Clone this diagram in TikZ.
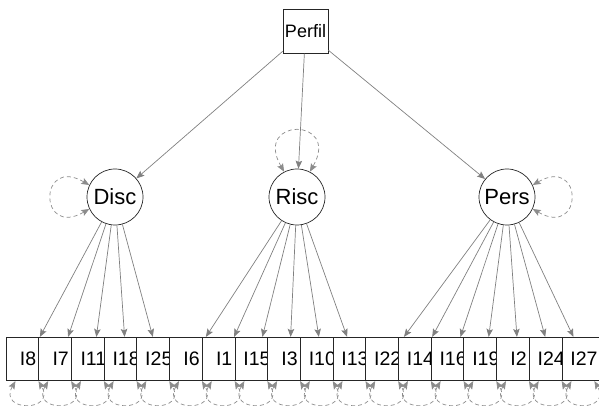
\documentclass[tikz,border=0pt]{standalone}
\usepackage{fontspec}
\setmainfont{Liberation Sans}
\usetikzlibrary{arrows.meta}

\tikzset{
  obs/.style={draw=black!85, fill=white, line width=0.7pt, inner sep=0pt,
    minimum width=44pt, minimum height=43.5pt, font=\fontsize{19.5}{19.5}\selectfont},
  lat/.style={circle, draw=black!85, fill=white, line width=0.7pt, inner sep=0pt,
    minimum size=56pt, font=\fontsize{22}{22}\selectfont},
  load/.style={draw=black!50, line width=0.7pt, -{Stealth[length=8pt,width=6.5pt,inset=1.5pt]}},
  resid/.style={draw=black!45, line width=0.7pt, dash pattern=on 4pt off 3pt,
    {Stealth[length=8pt,width=6.5pt,inset=1.5pt]}-{Stealth[length=8pt,width=6.5pt,inset=1.5pt]}},
}

\begin{document}
\begin{tikzpicture}[x=1pt,y=1pt]
        \useasboundingbox (0,0) rectangle (599,406);
        \clip (0,0) rectangle (599,406);
        % second order factor and the three first order factors
        \node[obs, minimum width=45pt, font=\fontsize{18}{18}\selectfont] (perfil) at (305.5,374.5) {Perfil};
        \node[lat] (disc) at (115,209) {Disc};
        \node[lat] (risc) at (297,209) {Risc};
        \node[lat] (pers) at (507,209) {Pers};
        % items, each box laid over the one before
        \foreach \n [count=\k from 0] in {8,7,11,18,25,6,1,15,3,10,13,22,14,16,19,2,24,27}
            \node[obs] (i\n) at ({28+32.7*\k},47) {I\n};
        % loadings
        \draw[load] (perfil) -- (disc);
        \draw[load] (perfil) -- (risc);
        \draw[load] (perfil) -- (pers);
        \foreach \n in {8,7,11,18,25} \draw[load] (disc) -- (i\n);
        \foreach \n in {6,1,15,3,10,13} \draw[load] (risc) -- (i\n);
        \foreach \n in {22,14,16,19,2,24,27} \draw[load] (pers) -- (i\n);
        % variances
        \draw[resid] (disc.155) to[out=150,in=210,looseness=6.3] (disc.205);
        \draw[resid] (risc.117) to[out=120,in=60,looseness=6.3] (risc.63);
        \draw[resid] (pers.25) to[out=30,in=-30,looseness=6.3] (pers.-25);
        \foreach \n in {8,7,11,18,25,6,1,15,3,10,13,22,14,16,19,2,24,27}
            \draw[resid] ([xshift=-12.5pt]i\n.south) to[out=-120,in=-60,looseness=4] ([xshift=10.5pt]i\n.south);
\end{tikzpicture}
\end{document}
